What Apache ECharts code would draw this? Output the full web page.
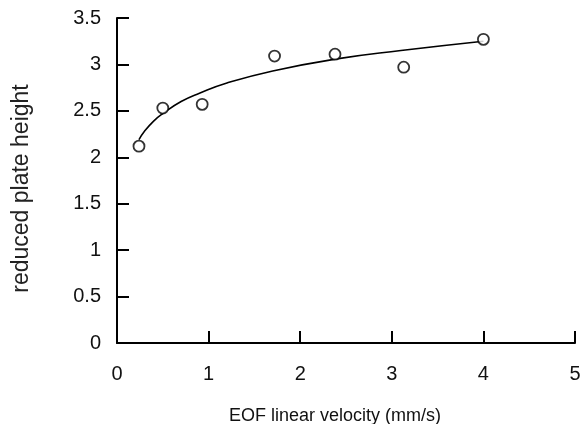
<!DOCTYPE html>
<html>
<head>
<meta charset="utf-8">
<script src="https://cdn.jsdelivr.net/npm/echarts@6/dist/echarts.min.js"></script>
<style>html,body{margin:0;padding:0;background:#fff}#c{width:580px;height:424px}</style>
</head>
<body>
<div id="c"></div>
<script>
// measured points
var pointX = [0.24, 0.50, 0.93, 1.72, 2.38, 3.13, 4.00];
var pointY = [2.12, 2.53, 2.57, 3.09, 3.11, 2.97, 3.27];
// fitted curve
var curveX = [0.24, 0.30, 0.40, 0.50, 0.70, 0.90, 1.20, 1.70, 2.40, 3.10, 4.00];
var curveY = [2.19, 2.28, 2.39, 2.47, 2.60, 2.69, 2.80, 2.93, 3.06, 3.15, 3.25];
var xTicks = [0, 1, 2, 3, 4, 5];
var yTicks = [0, 0.5, 1, 1.5, 2, 2.5, 3, 3.5];
var xTitle = 'EOF linear velocity (mm/s)';
var yTitle = 'reduced plate height';

function zip(a, b) { return a.map(function (v, i) { return [v, b[i]]; }); }

var chart = echarts.init(document.getElementById('c'), null, {renderer: 'canvas'});
var font = 'Liberation Sans, Arial, sans-serif';
chart.setOption({
  animation: false,
  backgroundColor: '#fff',
  grid: {left: 117, right: 5, top: 18, bottom: 81, containLabel: false, outerBoundsMode: 'none'},
  xAxis: {
    type: 'value', min: xTicks[0], max: xTicks[xTicks.length - 1], interval: 1,
    name: xTitle, nameLocation: 'middle', nameGap: 64,
    nameTextStyle: {fontFamily: font, fontSize: 18, color: '#111', padding: [0, 22, 0, 0]},
    axisLine: {show: true, onZero: false, lineStyle: {color: '#000', width: 2}},
    axisTick: {show: true, inside: true, length: 12, lineStyle: {color: '#000', width: 2}},
    axisLabel: {fontFamily: font, fontSize: 20, color: '#111', margin: 21,
      formatter: function (v) { return xTicks.indexOf(v) >= 0 ? String(v) : ''; }},
    splitLine: {show: false}
  },
  yAxis: {
    type: 'value', min: yTicks[0], max: yTicks[yTicks.length - 1], interval: 0.5,
    name: yTitle, nameLocation: 'middle', nameGap: 84,
    nameTextStyle: {fontFamily: font, fontSize: 23, color: '#222', padding: [0, 16, 0, 0]},
    axisLine: {show: true, lineStyle: {color: '#000', width: 2}},
    axisTick: {show: true, inside: true, length: 12, lineStyle: {color: '#000', width: 2}},
    axisLabel: {fontFamily: font, fontSize: 20, color: '#111', margin: 16, padding: [8, 0, 0, 0],
      formatter: function (v) { return String(v); }},
    splitLine: {show: false}
  },
  series: [
    {
      type: 'line', data: zip(curveX, curveY), smooth: true, symbol: 'none',
      lineStyle: {color: '#000', width: 1.6}, z: 2
    },
    {
      type: 'scatter', data: zip(pointX, pointY), symbol: 'circle', symbolSize: 11,
      itemStyle: {color: '#fff', borderColor: '#000', borderWidth: 1.8}, z: 3
    }
  ]
});
</script>
</body>
</html>
